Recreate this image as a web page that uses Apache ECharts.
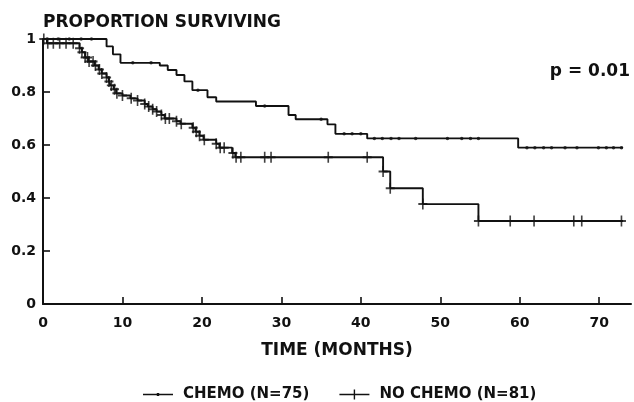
<!DOCTYPE html>
<html>
<head>
<meta charset="utf-8">
<script src="https://cdn.jsdelivr.net/npm/echarts@6/dist/echarts.min.js"></script>
<style>
  html, body { margin: 0; padding: 0; background: #fff; }
  #main { width: 634px; height: 402px; }
</style>
</head>
<body>
<div id="main"></div>
<script>
// Kaplan-Meier steps: [month, proportion surviving] where the curve changes
var chemoSteps = [
    [0, 1.0], [8.0, 0.972], [8.8, 0.942], [9.75, 0.91], [14.7, 0.90],
    [15.7, 0.883], [16.8, 0.864], [17.8, 0.84], [18.8, 0.807], [20.7, 0.78],
    [21.8, 0.764], [26.8, 0.747], [30.9, 0.713], [31.8, 0.697], [35.8, 0.678],
    [36.8, 0.642], [40.8, 0.625], [59.8, 0.59], [73, 0.59]
];
var noChemoSteps = [
    [0, 1.0], [0.5, 0.984], [4.6, 0.965], [4.9, 0.95], [5.3, 0.93],
    [5.7, 0.915], [6.5, 0.90], [7.0, 0.885], [7.4, 0.87], [8.0, 0.855],
    [8.3, 0.84], [8.5, 0.825], [8.9, 0.81], [9.2, 0.795], [10.0, 0.787],
    [11.0, 0.776], [11.9, 0.768], [12.8, 0.755], [13.2, 0.745], [13.8, 0.735],
    [14.3, 0.726], [14.9, 0.713], [15.3, 0.70], [16.8, 0.69], [17.3, 0.68],
    [18.8, 0.665], [19.2, 0.65], [19.7, 0.635], [20.2, 0.62], [21.8, 0.605],
    [22.2, 0.59], [23.8, 0.57], [24.2, 0.554], [42.8, 0.50], [43.7, 0.437],
    [47.8, 0.377], [54.8, 0.313], [73, 0.313]
];

// censored observations (months)
var chemoCensor = [0.5, 1.9, 3.3, 4.8, 6.1, 11.3, 13.6, 19.5, 27.9, 35.0, 37.9,
    38.9, 40.0, 41.7, 42.7, 43.8, 44.8, 46.9, 50.9, 52.7, 53.8, 54.8, 60.9,
    61.9, 63.0, 64.0, 65.7, 67.2, 69.9, 70.9, 71.8, 72.8];
var noChemoCensor = [0.1, 0.6, 1.3, 2.1, 2.9, 3.8, 4.6, 4.9, 5.3, 5.6, 5.8, 6.3,
    6.6, 7.1, 7.4, 8.0, 8.3, 8.6, 9.0, 9.3, 10.0, 11.1, 11.9, 12.8, 13.3, 13.8,
    14.3, 14.9, 15.4, 15.9, 16.8, 17.4, 18.9, 19.3, 19.7, 20.3, 21.8, 22.3, 22.8,
    23.9, 24.3, 24.9, 27.9, 28.7, 35.9, 40.8, 42.8, 43.7, 47.8, 54.8, 58.8,
    61.8, 66.8, 67.8, 72.8];

var xTicks = [0, 10, 20, 30, 40, 50, 60, 70];
var yTicks = [0, 0.2, 0.4, 0.6, 0.8, 1];

// survival level of a step curve at time t
function levelAt(steps, t) {
    var v = steps[0][1];
    for (var i = 0; i < steps.length; i++) {
        if (steps[i][0] <= t) v = steps[i][1];
    }
    return v;
}
function censorPoints(steps, times) {
    return times.map(function (t) { return [t, levelAt(steps, t)]; });
}

var FONT = 'DejaVu Sans';
var INK = '#111';

var myChart = echarts.init(document.getElementById('main'));

var option = {
    animation: false,
    backgroundColor: '#fff',
    textStyle: {fontFamily: FONT, color: INK},
    title: {
        text: 'PROPORTION SURVIVING',
        left: 38,
        top: 9,
        textStyle: {fontFamily: FONT, fontSize: 17, fontWeight: 'bold', color: INK}
    },
    graphic: [{
        type: 'text',
        right: 4,
        top: 63,
        style: {text: 'p = 0.01', font: 'bold 17px "DejaVu Sans"', fill: INK}
    }],
    legend: {
        left: 138,
        top: 382,
        itemWidth: 30,
        itemHeight: 10,
        itemGap: 30,
        selectedMode: false,
        textStyle: {fontFamily: FONT, fontSize: 15, fontWeight: 'bold', color: INK, padding: [0, 0, 0, 5]},
        data: [
            {name: 'CHEMO (N=75)', icon: 'path://M0,4.3h30v1.4h-30z M13.8,3.4h2.4v3.2h-2.4z'},
            {name: 'NO CHEMO (N=81)', icon: 'path://M0,4.3h30v1.4h-30z M14.3,0h1.4v10h-1.4z'}
        ]
    },
    grid: {left: 43, top: 39, width: 588, height: 265},
    xAxis: {
        type: 'value',
        min: 0,
        max: 74,
        interval: 10,
        name: 'TIME (MONTHS)',
        nameLocation: 'middle',
        nameGap: 38,
        nameTextStyle: {fontFamily: FONT, fontSize: 17, fontWeight: 'bold', color: INK},
        axisLine: {lineStyle: {color: INK, width: 2}},
        axisTick: {inside: true, length: 7, customValues: xTicks, lineStyle: {color: INK, width: 1.6}},
        axisLabel: {customValues: xTicks, margin: 12, fontFamily: FONT, fontSize: 14, fontWeight: 'bold', color: INK},
        splitLine: {show: false}
    },
    yAxis: {
        type: 'value',
        min: 0,
        max: 1,
        interval: 0.2,
        axisLine: {show: true, lineStyle: {color: INK, width: 2}},
        axisTick: {show: true, inside: true, length: 7, customValues: yTicks, lineStyle: {color: INK, width: 1.6}},
        axisLabel: {customValues: yTicks, margin: 7, fontFamily: FONT, fontSize: 14, fontWeight: 'bold', color: INK},
        splitLine: {show: false}
    },
    series: [
        {
            name: 'CHEMO (N=75)',
            type: 'line',
            step: 'end',
            showSymbol: false,
            color: INK,
            lineStyle: {color: INK, width: 1.9},
            data: chemoSteps
        },
        {
            name: 'NO CHEMO (N=81)',
            type: 'line',
            step: 'end',
            showSymbol: false,
            color: INK,
            lineStyle: {color: INK, width: 1.9},
            data: noChemoSteps
        },
        {
            name: 'chemo censored',
            type: 'scatter',
            symbol: 'circle',
            symbolSize: 3.5,
            itemStyle: {color: INK},
            data: censorPoints(chemoSteps, chemoCensor)
        },
        {
            name: 'no chemo censored',
            type: 'scatter',
            symbol: 'path://M0,4.1h10v1.8h-10z M4.1,0h1.8v10h-1.8z',
            symbolSize: [9, 11],
            itemStyle: {color: INK},
            data: censorPoints(noChemoSteps, noChemoCensor)
        }
    ]
};

myChart.setOption(option);
</script>
</body>
</html>
